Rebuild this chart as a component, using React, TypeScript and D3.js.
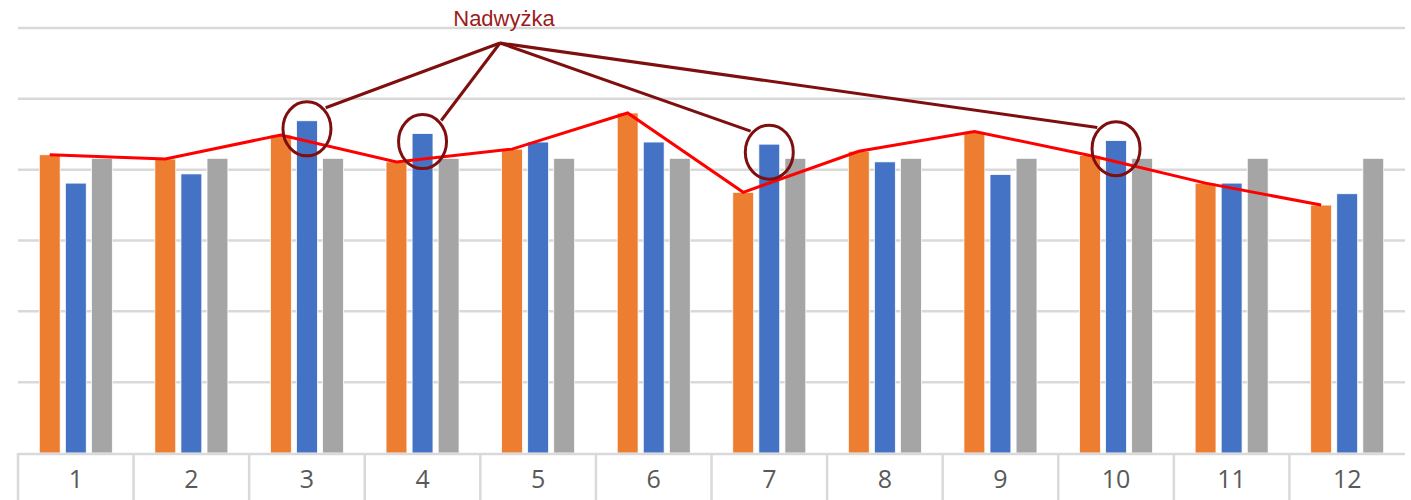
import React, { useEffect, useRef } from "react";
import * as d3 from "d3";

// months on the x axis
const months = ["1", "2", "3", "4", "5", "6", "7", "8", "9", "10", "11", "12"];
const seriesNames = ["orange", "blue", "gray"];

// values (axis has no labels, 0..60 scale, grid every 10)
const orangeValues = [42.1, 41.5, 44.9, 41.1, 42.9, 48.0, 36.8, 42.6, 45.4, 42.0, 38.1, 35.0];
const blueValues = [38.1, 39.4, 46.9, 45.1, 43.9, 43.9, 43.6, 41.1, 39.3, 44.1, 38.1, 36.6];
const grayValues = [41.6, 41.6, 41.6, 41.6, 41.6, 41.6, 41.6, 41.6, 41.6, 41.6, 41.6, 41.6];

const yTicks = [10, 20, 30, 40, 50, 60];

// months marked as surplus
const surplusMonths = ["3", "4", "7", "10"];
const surplusLabel = "Nadwyżka";

const colors: Record<string, string> = {
  orange: "#ED7D31",
  blue: "#4472C4",
  gray: "#A5A5A5",
};

export default function App() {
  const ref = useRef<SVGSVGElement>(null);

  useEffect(() => {
    const W = 1411, H = 500;
    const left = 18, right = 1405, top = 28, base = 453;

    const svg = d3.select(ref.current);
    svg.selectAll("*").remove();

    const x0 = d3.scaleBand<string>().domain(months).range([left, right]);
    const bw0 = x0.bandwidth();
    const x1 = d3
      .scaleBand<string>()
      .domain(seriesNames)
      .range([bw0 / 2 - 36.5, bw0 / 2 + 36.5])
      .paddingInner(0.2);
    const y = d3.scaleLinear().domain([0, 60]).range([base, top]);

    // grid
    svg
      .append("g")
      .selectAll("line")
      .data(yTicks)
      .join("line")
      .attr("x1", left)
      .attr("x2", right)
      .attr("y1", (d) => y(d))
      .attr("y2", (d) => y(d))
      .attr("stroke", "#d9d9d9")
      .attr("stroke-width", 2.5);

    // bars
    const data = months.map((m, i) => ({
      month: m,
      vals: [
        { key: "orange", v: orangeValues[i] },
        { key: "blue", v: blueValues[i] },
        { key: "gray", v: grayValues[i] },
      ],
    }));

    svg
      .append("g")
      .selectAll("g")
      .data(data)
      .join("g")
      .attr("transform", (d) => `translate(${x0(d.month)},0)`)
      .selectAll("rect")
      .data((d) => d.vals)
      .join("rect")
      .attr("x", (d) => x1(d.key)!)
      .attr("y", (d) => y(d.v))
      .attr("width", x1.bandwidth())
      .attr("height", (d) => base - y(d.v))
      .attr("fill", (d) => colors[d.key])
      .attr("stroke", "#fff")
      .attr("stroke-width", 0.75);

    // x axis line + separators
    const axis = svg.append("g");
    axis
      .append("line")
      .attr("x1", left)
      .attr("x2", right)
      .attr("y1", base + 1)
      .attr("y2", base + 1)
      .attr("stroke", "#d9d9d9")
      .attr("stroke-width", 2.5);
    axis
      .selectAll("line.sep")
      .data(months)
      .join("line")
      .attr("class", "sep")
      .attr("x1", (d) => x0(d)!)
      .attr("x2", (d) => x0(d)!)
      .attr("y1", base)
      .attr("y2", H)
      .attr("stroke", "#d9d9d9")
      .attr("stroke-width", 2.5);
    axis
      .selectAll("text")
      .data(months)
      .join("text")
      .attr("x", (d) => x0(d)! + bw0 / 2)
      .attr("y", 488)
      .attr("text-anchor", "middle")
      .attr("font-family", "'Open Sans', sans-serif")
      .attr("font-size", 25)
      .attr("fill", "#595959")
      .text((d) => d);

    // red line through the orange bar tops
    const line = d3
      .line<number>()
      .x((_, i) => x0(months[i])! + x1("orange")! + x1.bandwidth() / 2)
      .y((d) => y(d));
    svg
      .append("path")
      .attr("d", line(orangeValues))
      .attr("fill", "none")
      .attr("stroke", "#FF0000")
      .attr("stroke-width", 3);

    // annotation
    const hub = { x: 500, y: 43 };
    const ann = svg.append("g");
    surplusMonths.forEach((m) => {
      const i = months.indexOf(m);
      const cx = x0(m)! + x1("blue")! + x1.bandwidth() / 2;
      const cy = y(blueValues[i]) + 8;
      const rx = 24, ry = 27;
      const side = cx < hub.x ? 1 : -1;
      ann
        .append("line")
        .attr("x1", hub.x)
        .attr("y1", hub.y)
        .attr("x2", cx + side * rx * 0.78)
        .attr("y2", cy - ry * 0.78)
        .attr("stroke", "#7F0F0F")
        .attr("stroke-width", 3);
      ann
        .append("ellipse")
        .attr("cx", cx)
        .attr("cy", cy)
        .attr("rx", rx)
        .attr("ry", ry)
        .attr("fill", "none")
        .attr("stroke", "#7F0F0F")
        .attr("stroke-width", 3);
    });
    ann
      .append("text")
      .attr("x", 504)
      .attr("y", 26)
      .attr("text-anchor", "middle")
      .attr("font-family", "'Liberation Sans', Arial, sans-serif")
      .attr("font-size", 22)
      .attr("fill", "#9C1C1C")
      .text(surplusLabel);

    svg.attr("width", W).attr("height", H);
  }, []);

  return (
    <svg
      ref={ref}
      width={1411}
      height={500}
      style={{ position: "absolute", left: 0, top: 0, display: "block", background: "#fff" }}
    />
  );
}
